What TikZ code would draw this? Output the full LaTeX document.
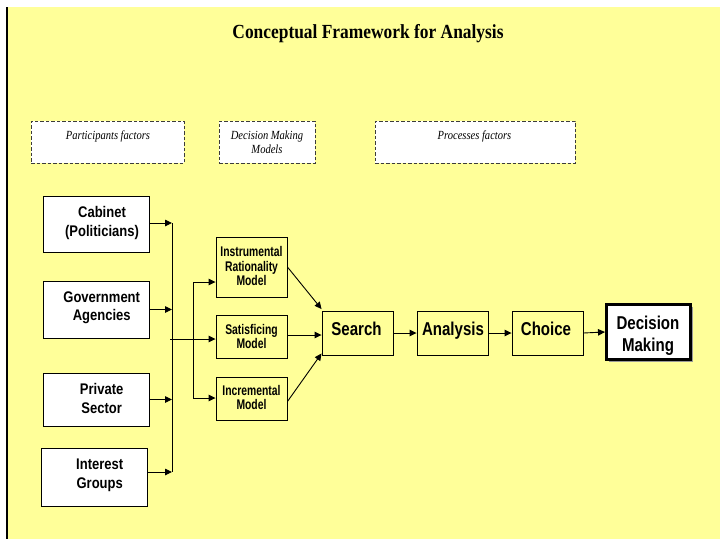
\documentclass[tikz,border=0pt]{standalone}
\usepackage{fontspec}
\setmainfont{Liberation Serif}
\newfontfamily\arialL{Liberation Sans}[FakeStretch=0.845]
\newfontfamily\arialM{Liberation Sans}[FakeStretch=0.74]
\newfontfamily\arialS{Liberation Sans}[FakeStretch=0.81]
\newfontfamily\titlef{Liberation Serif}[FakeStretch=0.87]
\newfontfamily\itlf{Liberation Serif}[FakeStretch=0.85]
\usetikzlibrary{arrows.meta,shadows,calc}
\definecolor{bgy}{RGB}{255,255,153}
\definecolor{dashgray}{RGB}{60,60,60}
\begin{document}
\begin{tikzpicture}[x=1pt,y=-1pt,
  arr/.style={line width=0.9pt,-{Triangle[length=7pt,width=6.5pt]}},
  conn/.style={line width=0.9pt},
  partbox/.style={draw=black,line width=0.9pt,fill=white,minimum width=106pt,inner sep=0pt,
    drop shadow={shadow xshift=1pt,shadow yshift=-1pt,fill=gray,opacity=1}},
  ptxt/.style={font=\arialL\bfseries\fontsize{15.4}{18}\selectfont,anchor=base,inner sep=0pt},
  modelbox/.style={draw=black,line width=0.9pt,fill=bgy,minimum width=71pt,inner sep=0pt},
  mtxt/.style={font=\arialM\bfseries\fontsize{14}{16}\selectfont,anchor=base,inner sep=0pt},
  procbox/.style={draw=black,line width=0.9pt,fill=bgy,minimum width=71pt,minimum height=44pt,inner sep=0pt},
  stxt/.style={font=\arialS\bfseries\fontsize{18.6}{21}\selectfont,anchor=base,inner sep=0pt},
  dashbox/.style={draw=dashgray,line width=1pt,dash pattern=on 3.5pt off 2pt,fill=white,minimum height=42pt,inner sep=0pt},
  itl/.style={font=\itlf\itshape\fontsize{12.4}{14}\selectfont,anchor=base,inner sep=0pt}
]
\useasboundingbox (0,0) rectangle (720,539);
\fill[white] (0,0) rectangle (720,539);
\fill[bgy] (7,7) rectangle (720,539);
\draw[line width=1.2pt] (7,7) -- (7,539);

% title
\node[font=\titlef\bfseries\fontsize{20}{22}\selectfont,anchor=base,inner sep=0pt] (title) at (368,38.3) {Conceptual Framework for Analysis};

% dashed header boxes
\node[dashbox,minimum width=153pt] (pf) at (107.5,142) {};
\node[dashbox,minimum width=96pt] (dmm) at (267,142) {};
\node[dashbox,minimum width=200pt] (proc) at (475,142) {};
\node[itl] (pft) at (108,139) {Participants factors};
\node[itl] (dmmt1) at (267,139) {Decision Making};
\node[itl] (dmmt2) at (267,153.5) {Models};
\node[itl] (proct) at (474.5,139) {Processes factors};

% participant boxes
\node[partbox,minimum height=56pt] (cab) at (96,224) {};
\node[partbox,minimum height=57pt] (gov) at (96,309.5) {};
\node[partbox,minimum height=53pt] (priv) at (96,399.5) {};
\node[partbox,minimum height=58pt] (intg) at (94,477) {};
\node[ptxt] (cabt1) at (102,217.3) {Cabinet};
\node[ptxt] (cabt2) at (102,236) {(Politicians)};
\node[ptxt] (govt1) at (101.7,302.3) {Government};
\node[ptxt] (govt2) at (101.7,320.6) {Agencies};
\node[ptxt] (privt1) at (101.7,394) {Private};
\node[ptxt] (privt2) at (101.7,413.3) {Sector};
\node[ptxt] (intgt1) at (99.7,469.6) {Interest};
\node[ptxt] (intgt2) at (99.7,488.3) {Groups};

% model boxes
\node[modelbox,minimum height=60pt] (inst) at (251.5,267) {};
\node[modelbox,minimum height=43pt] (sat) at (251.5,336.5) {};
\node[modelbox,minimum height=43pt] (incr) at (251.5,398.5) {};
\node[mtxt] (instt1) at (251.5,256.7) {Instrumental};
\node[mtxt] (instt2) at (251.5,271) {Rationality};
\node[mtxt] (instt3) at (251.5,285.3) {Model};
\node[mtxt] (satt1) at (251.5,334) {Satisficing};
\node[mtxt] (satt2) at (251.5,348.3) {Model};
\node[mtxt] (incrt1) at (251.5,395) {Incremental};
\node[mtxt] (incrt2) at (251.5,409.3) {Model};

% process boxes
\node[procbox] (search) at (357.5,333) {};
\node[procbox] (anal) at (452.5,333) {};
\node[procbox] (choice) at (547.5,333) {};
\node[stxt] (searcht) at (356.5,335.3) {Search};
\node[stxt] (analt) at (453,335.3) {Analysis};
\node[stxt] (choicet) at (546,335.3) {Choice};
\node[draw=black,line width=3pt,fill=white,minimum width=84pt,minimum height=55pt,inner sep=0pt,
  drop shadow={shadow xshift=2.5pt,shadow yshift=-2.5pt,fill=gray!80,opacity=1}] (dm) at (648.5,332) {};
\node[stxt] (dmt1) at (648,329) {Decision};
\node[stxt] (dmt2) at (648,351.3) {Making};

% bus 1
\coordinate (b1top) at (172,223);
\coordinate (b1bot) at (172,472);
\draw[conn] (b1top) -- (b1bot);
\draw[arr] (cab.east |- b1top) -- (b1top);
\draw[arr] (gov.east) -- (gov.east -| b1top);
\draw[arr] (priv.east) -- (priv.east -| b1top);
\draw[arr] (intg.east |- b1bot) -- (b1bot);

% link to models
\coordinate (j1) at (170,339);
\draw[arr] (j1) -- (j1 -| sat.west);

% bus 2
\coordinate (b2top) at (193,282);
\coordinate (b2bot) at (193,398);
\draw[conn] (b2top) -- (b2bot);
\draw[arr] (b2top) -- (b2top -| inst.west);
\draw[arr] (b2bot) -- (b2bot -| incr.west);

% models to search
\draw[arr] (inst.east) -- ($(search.north west)+(0,-1.5)$);
\draw[arr] ($(sat.east)+(0,-1.5)$) -- ($(search.west)+(0,2)$);
\draw[arr] ($(incr.east)+(0,3)$) -- ($(search.south west)+(0,-2)$);

% process chain
\draw[arr] (search.east) -- (anal.west);
\draw[arr] (anal.east) -- (choice.west);
\draw[arr] (choice.east) -- (dm.west);
\end{tikzpicture}
\end{document}
